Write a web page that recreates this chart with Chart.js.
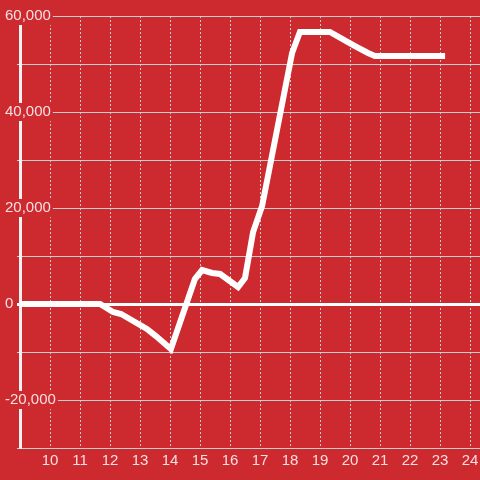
<!DOCTYPE html>
<html>
<head>
<meta charset="utf-8">
<script src="https://cdn.jsdelivr.net/npm/chart.js@4/dist/chart.umd.min.js"></script>
<style>
  html, body { margin: 0; padding: 0; background: #cc2a2f; }
  #wrap { width: 480px; height: 480px; position: relative; }
</style>
</head>
<body>
<div id="wrap"><canvas id="c"></canvas></div>
<script>
// Data (x = hour of day, y = value)
const hours  = [9, 11.67, 12.1, 12.37, 13.23, 13.53, 14.03, 14.83, 15.07, 15.4, 15.67, 16.27, 16.5, 16.77, 17.07, 18.07, 18.33, 19.33, 19.93, 20.23, 20.6, 20.83, 23.17];
const values = [0, 0, -1670, -2080, -5200, -6670, -9380, 5200, 7080, 6460, 6250, 3540, 5420, 15000, 20400, 52290, 56670, 56670, 54580, 53540, 52290, 51670, 51670];
const yLabelValues = [60000, 40000, 20000, 0, -20000];
const xLabelValues = [10, 11, 12, 13, 14, 15, 16, 17, 18, 19, 20, 21, 22, 23, 24];

const BG = '#cc2a2f';
const TEXT = 'rgba(255,255,255,0.85)';
const GRID = '#cccccc';
const FONT = { family: '"Liberation Sans", Arial, sans-serif', size: 15 };

const points = hours.map((h, i) => ({ x: h, y: values[i] }));

new Chart(document.getElementById('c'), {
  type: 'line',
  data: {
    datasets: [{
      data: points,
      borderColor: '#ffffff',
      borderWidth: 6,
      pointRadius: 0,
      tension: 0,
      fill: false
    }]
  },
  options: {
    responsive: true,
    maintainAspectRatio: false,
    animation: false,
    layout: { padding: { top: 16, left: 4, right: 0, bottom: 0 } },
    plugins: { legend: { display: false }, tooltip: { enabled: false } },
    scales: {
      x: {
        type: 'linear',
        min: 9,
        max: 24.3333,
        afterFit: s => { s.height = 32; s.paddingRight = 0; s.paddingLeft = 0; },
        border: { display: true, color: GRID, width: 1, dash: [2, 2] },
        grid: { color: GRID, lineWidth: 1, drawTicks: false },
        ticks: {
          stepSize: 1,
          includeBounds: false,
          padding: 4,
          color: TEXT,
          font: FONT,
          maxRotation: 0,
          autoSkip: false,
          callback: v => xLabelValues.includes(v) ? String(v) : ''
        }
      },
      y: {
        type: 'linear',
        min: -30000,
        max: 60000,
        afterFit: s => { s.width = 16; s.paddingTop = 0; s.paddingBottom = 0; },
        border: { display: true, color: '#f2f2f2', width: 3 },
        grid: {
          color: c => c.tick && c.tick.value === 0 ? '#ffffff' : GRID,
          tickColor: c => c.tick && c.tick.value === 0 ? '#ffffff' : GRID,
          lineWidth: c => c.tick && c.tick.value === 0 ? 3 : 1,
          drawTicks: true,
          tickLength: 3
        },
        ticks: {
          stepSize: 10000,
          mirror: true,
          padding: -15,
          color: TEXT,
          font: FONT,
          showLabelBackdrop: true,
          backdropColor: BG,
          backdropPadding: { x: 2, y: 0 },
          callback: v => yLabelValues.includes(v) ? v.toLocaleString('en-US') : ''
        }
      }
    }
  }
});
</script>
</body>
</html>
